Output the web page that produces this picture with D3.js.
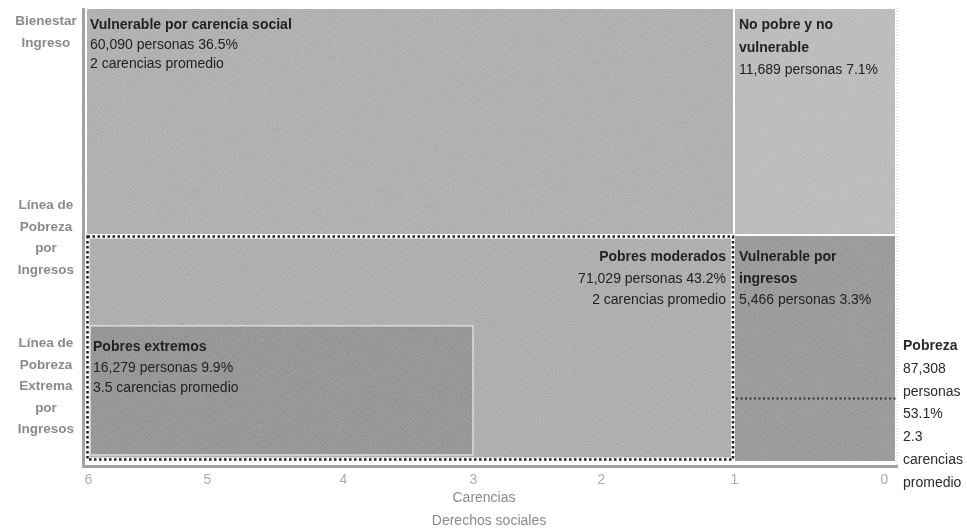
<!DOCTYPE html>
<html>
<head>
<meta charset="utf-8">
<script src="https://cdn.jsdelivr.net/npm/d3@7"></script>
<style>
body { margin: 0; background: #fff; }
svg text { font-family: "Liberation Sans", Arial, sans-serif; }
</style>
</head>
<body>
<svg width="967" height="528"></svg>
<script>
// grupos de poblacion: carencias sociales (x) contra ingreso (y)
var grupos = ["Vulnerable por carencia social", "No pobre y no vulnerable", "Pobres moderados", "Vulnerable por ingresos", "Pobres extremos"];
var nombreLineas = [["Vulnerable por carencia social"], ["No pobre y no", "vulnerable"], ["Pobres moderados"], ["Vulnerable por", "ingresos"], ["Pobres extremos"]];
var personas = [60090, 11689, 71029, 5466, 16279];
var porcentaje = [36.5, 7.1, 43.2, 3.3, 9.9];
var carenciasPromedio = [2, null, 2, null, 3.5];

// extension de cada grupo: carencias (6..0) e ingreso (indice 0..10)
var carenciasDesde = [6, 1, 6, 1, 6];
var carenciasHasta = [1, 0, 1, 0, 3];
var ingresoDesde = [5, 5, 0, 0, 0];
var ingresoHasta = [10, 10, 5, 5, 3];

var carenciasTicks = [6, 5, 4, 3, 2, 1, 0];
var lineaPobreza = 5;
var lineaPobrezaExtrema = 1.4;

var pobrezaPersonas = 87308;
var pobrezaPorcentaje = 53.1;
var pobrezaCarencias = 2.3;

var etiquetasIngreso = [
  {nivel: 10, lineas: ["Bienestar", "Ingreso"]},
  {nivel: lineaPobreza, lineas: ["Línea de", "Pobreza", "por", "Ingresos"]},
  {nivel: lineaPobrezaExtrema, lineas: ["Línea de", "Pobreza", "Extrema", "por", "Ingresos"]}
];

var colores = ["#a2a2a2", "#b0b0b0", "#a0a0a0", "#898989", "#838383"];

var svg = d3.select("svg");
var fmt = d3.format(",");

var x = d3.scaleLinear().domain(carenciasTicks).range([86, 207, 343, 473, 601, 734, 896]);
var y = d3.scaleLinear().domain([0, 10]).range([462, 8]);

// grano de la impresion
var defs = svg.append("defs");
var f = defs.append("filter").attr("id", "grano").attr("x", 0).attr("y", 0).attr("width", "100%").attr("height", "100%");
f.append("feTurbulence").attr("type", "fractalNoise").attr("baseFrequency", 1.1).attr("numOctaves", 1).attr("seed", 4);
f.append("feColorMatrix").attr("type", "matrix")
  .attr("values", "0.33 0.33 0.33 0 0  0.33 0.33 0.33 0 0  0.33 0.33 0.33 0 0  0 0 0 0 1");

var g = svg.append("g");

// rectangulos de cada grupo (pobres extremos va dentro del recuadro punteado)
grupos.forEach(function(d, i) {
  var x0 = x(carenciasDesde[i]), x1 = x(carenciasHasta[i]);
  var y0 = y(ingresoHasta[i]), y1 = y(ingresoDesde[i]);
  if (i == 4) {
    g.append("rect")
      .attr("x", x0 + 4).attr("y", y0)
      .attr("width", x1 - x0 - 4).attr("height", y1 - y0 - 7)
      .attr("fill", colores[i])
      .attr("stroke", "#d6d6d6").attr("stroke-width", 1.5);
  } else {
    g.append("rect")
      .attr("x", x0).attr("y", y0)
      .attr("width", x1 - x0).attr("height", y1 - y0)
      .attr("fill", colores[i])
      .attr("stroke", "#fff").attr("stroke-width", 2);
  }
});

// textura
g.append("rect")
  .attr("x", x(6)).attr("y", y(10))
  .attr("width", x(0) - x(6)).attr("height", y(0) - y(10))
  .attr("filter", "url(#grano)")
  .style("mix-blend-mode", "overlay")
  .attr("opacity", 0.35);

// recuadro punteado de pobreza
var px0 = x(carenciasDesde[2]) + 1.5, px1 = x(carenciasHasta[2]) - 1;
var py0 = y(lineaPobreza) + 1.5, py1 = y(0) - 2.5;
var recuadro = "M" + px0 + "," + py0 + "H" + px1 + "V" + py1 + "H" + px0 + "Z";
g.append("path").attr("d", recuadro).attr("fill", "none").attr("stroke", "#fff").attr("stroke-width", 4);
g.append("path").attr("d", recuadro).attr("fill", "none").attr("stroke", "#1e1e1e")
  .attr("stroke-width", 2.5).attr("stroke-dasharray", "2.5,2.5");

// linea de pobreza extrema en vulnerables por ingresos
g.append("line")
  .attr("x1", x(1) + 2).attr("x2", x(0))
  .attr("y1", y(lineaPobrezaExtrema)).attr("y2", y(lineaPobrezaExtrema))
  .attr("stroke", "#333").attr("stroke-width", 2).attr("stroke-dasharray", "2,2.5");

// borde derecho
g.append("line")
  .attr("x1", x(0) + 1).attr("x2", x(0) + 1)
  .attr("y1", y(10)).attr("y2", y(0) + 6)
  .attr("stroke", "#c4c4c4").attr("stroke-width", 1).attr("stroke-dasharray", "1,2");

// ejes
svg.append("line")
  .attr("x1", x(6) - 2.5).attr("x2", x(6) - 2.5)
  .attr("y1", y(10)).attr("y2", y(0) + 6)
  .attr("stroke", "#a2a2a2").attr("stroke-width", 3);
svg.append("line")
  .attr("x1", x(6) - 4).attr("x2", x(0) + 2)
  .attr("y1", y(0) + 4.5).attr("y2", y(0) + 4.5)
  .attr("stroke", "#a2a2a2").attr("stroke-width", 3);

var ax = svg.append("g")
  .attr("transform", "translate(0," + (y(0) + 6) + ")")
  .call(d3.axisBottom(x).tickValues(carenciasTicks).tickFormat(d3.format("d")).tickSize(0).tickPadding(6));
ax.select(".domain").remove();
ax.selectAll("text")
  .attr("font-size", 14)
  .attr("font-family", "Liberation Sans, Arial, sans-serif")
  .attr("fill", "#adadad")
  .attr("dx", function(d) { return d == 6 ? 2 : d == 0 ? -12 : 0; });

svg.append("text").attr("x", 484).attr("y", 502).attr("text-anchor", "middle")
  .attr("font-size", 14).attr("fill", "#8a8a8a").text("Carencias");
svg.append("text").attr("x", 489).attr("y", 525).attr("text-anchor", "middle")
  .attr("font-size", 14).attr("fill", "#8a8a8a").text("Derechos sociales");

// etiquetas del eje de ingreso
var inicioEtiqueta = [25, 209, 347];
etiquetasIngreso.forEach(function(e, k) {
  e.lineas.forEach(function(t, j) {
    svg.append("text")
      .attr("x", 46).attr("y", inicioEtiqueta[k] + j * 21.5)
      .attr("text-anchor", "middle")
      .attr("font-size", 13.5).attr("font-weight", "bold")
      .attr("fill", "#8a8a8a")
      .text(t);
  });
});

// textos dentro de cada grupo
function lineasGrupo(i) {
  var ls = nombreLineas[i].map(function(t) { return {t: t, b: true}; });
  ls.push({t: fmt(personas[i]) + " personas " + porcentaje[i] + "%", b: false});
  if (carenciasPromedio[i] != null) ls.push({t: carenciasPromedio[i] + " carencias promedio", b: false});
  return ls;
}
var textoPos = [
  {x: x(6) + 4, y: 29, paso: 19.5, anchor: "start"},
  {x: x(1) + 5, y: 29, paso: 22.5, anchor: "start"},
  {x: x(1) - 8, y: 261, paso: 21.5, anchor: "end"},
  {x: x(1) + 5, y: 261, paso: 21.5, anchor: "start"},
  {x: x(6) + 7, y: 351, paso: 20.5, anchor: "start"}
];
grupos.forEach(function(d, i) {
  lineasGrupo(i).forEach(function(l, j) {
    g.append("text")
      .attr("x", textoPos[i].x).attr("y", textoPos[i].y + j * textoPos[i].paso)
      .attr("text-anchor", textoPos[i].anchor)
      .attr("font-size", 14)
      .attr("font-weight", l.b ? "bold" : "normal")
      .attr("fill", "#222")
      .text(l.t);
  });
});

// total de pobreza
var pobrezaLineas = ["Pobreza", fmt(pobrezaPersonas), "personas", pobrezaPorcentaje + "%", pobrezaCarencias, "carencias", "promedio"];
pobrezaLineas.forEach(function(t, j) {
  svg.append("text")
    .attr("x", x(0) + 7).attr("y", 350 + j * 22.8)
    .attr("font-size", 14)
    .attr("font-weight", j == 0 ? "bold" : "normal")
    .attr("fill", "#2a2a2a")
    .text(t);
});
</script>
</body>
</html>
